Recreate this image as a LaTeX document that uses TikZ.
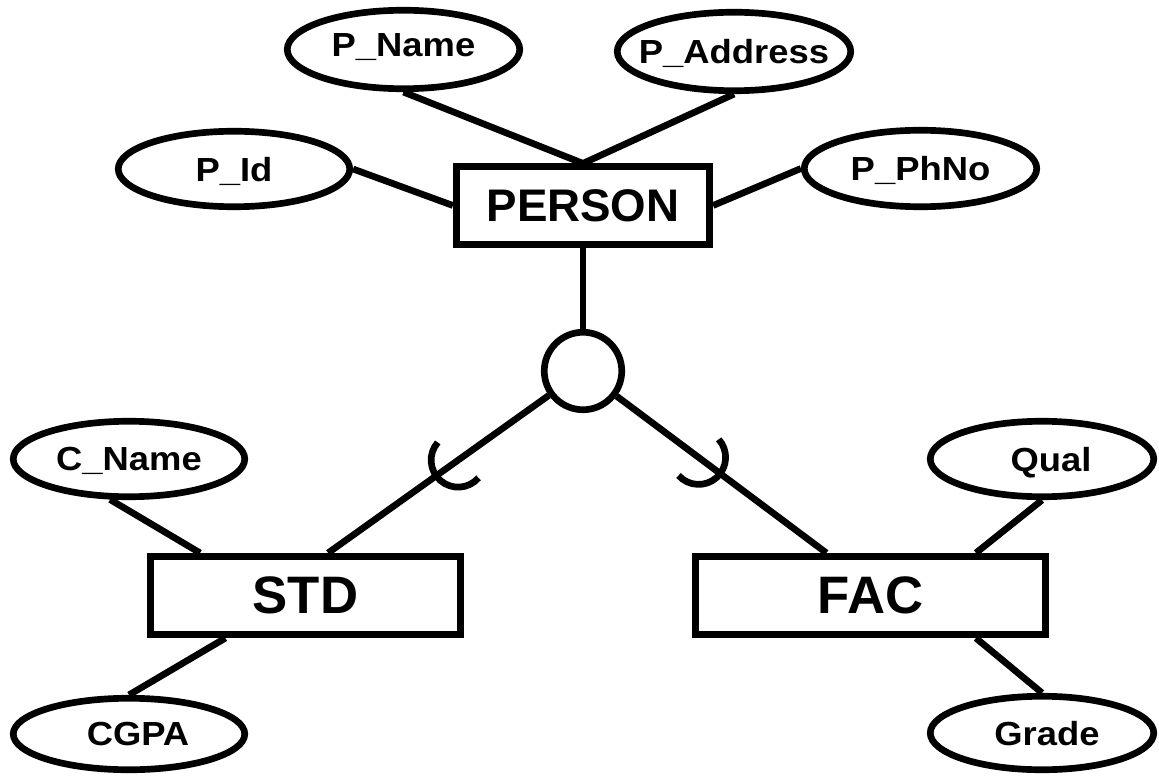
\documentclass[tikz,border=0pt]{standalone}
\usepackage{fontspec}
\setmainfont{Liberation Sans}
\newfontfamily\attrFont[FakeStretch=1.09]{Liberation Sans}
\usetikzlibrary{shapes.geometric,calc}

\begin{document}
\begin{tikzpicture}[line width=3.8pt]

  % Page frame (same proportions as the reference)
  \useasboundingbox (0,0) rectangle (23.18,15.52);

  % Styles for entities and attributes
  \tikzset{
    entity/.style={
      draw, rectangle, inner sep=0pt,
      minimum height=1.57cm,
      font=\bfseries\fontsize{30}{36}\selectfont
    },
    attrib/.style={
      draw, ellipse, inner sep=0pt,
      minimum width=4.65cm, minimum height=1.51cm
    },
    attrText/.style={
      font=\attrFont\bfseries\fontsize{19}{23}\selectfont,
      text depth=0pt
    }
  }

  % --- Entities ---
  \node[entity, minimum width=5.07cm, minimum height=1.55cm,
        font=\bfseries\fontsize{26}{31}\selectfont] (person) at (11.66,11.41) {PERSON};
  \node[entity, minimum width=6.21cm] (std) at (6.11,3.61) {STD};
  \node[entity, minimum width=7.01cm] (fac) at (17.41,3.61) {FAC};

  % Specialisation circle
  \node[draw, circle, inner sep=0pt, minimum size=1.55cm] (isa) at (11.66,8.10) {};

  % --- Attributes of PERSON ---
  \node[attrib, minimum height=1.57cm,
        label={[attrText, yshift=0.08cm]center:P\_Name}] (pname) at (8.07,14.53) {};
  \node[attrib, minimum width=4.67cm, minimum height=1.57cm,
        label={[attrText]center:P\_Address}] (paddr) at (14.68,14.49) {};
  \node[attrib, minimum width=4.63cm, label={[attrText]center:P\_Id}] (pid) at (4.68,12.14) {};
  \node[attrib, minimum height=1.53cm, label={[attrText]center:P\_PhNo}] (pphno) at (18.41,12.15) {};

  % --- Attributes of STD and FAC ---
  \node[attrib, minimum width=4.63cm, label={[attrText]center:C\_Name}] (cname) at (2.58,6.34) {};
  \node[attrib, minimum width=4.63cm, minimum height=1.43cm,
        label={[attrText, xshift=0.18cm]center:CGPA}] (cgpa) at (2.58,0.84) {};
  \node[attrib, minimum width=4.47cm,
        label={[attrText, xshift=0.18cm]center:Qual}] (qual) at (20.84,6.34) {};
  \node[attrib, minimum width=4.47cm, minimum height=1.47cm,
        label={[attrText, xshift=0.1cm]center:Grade}] (grade) at (20.84,0.86) {};

  % --- Connectors ---
  \draw (pname.south) -- (person.north);
  \draw (paddr.south) -- (person.north);
  \draw (pid.east) -- (person.west);
  \draw (pphno.west) -- (person.east);
  \draw (person.south) -- (isa);

  \draw (isa) -- (std.62);
  \draw (isa) -- (fac.136);

  \draw (cname.-115) -- (std.158);
  \draw (std.-152) -- (cgpa.north);
  \draw (fac.22) -- (qual.south);
  \draw (fac.-22) -- (grade.north);

  % Subset marks on the two specialisation lines
  \draw ($(isa)!0.49!(std.62)$) ++(139:0.54) arc[start angle=139, end angle=319, radius=0.54];
  \draw ($(isa)!0.475!(fac.136)$) ++(42:0.54) arc[start angle=42, end angle=-138, radius=0.54];

\end{tikzpicture}
\end{document}
